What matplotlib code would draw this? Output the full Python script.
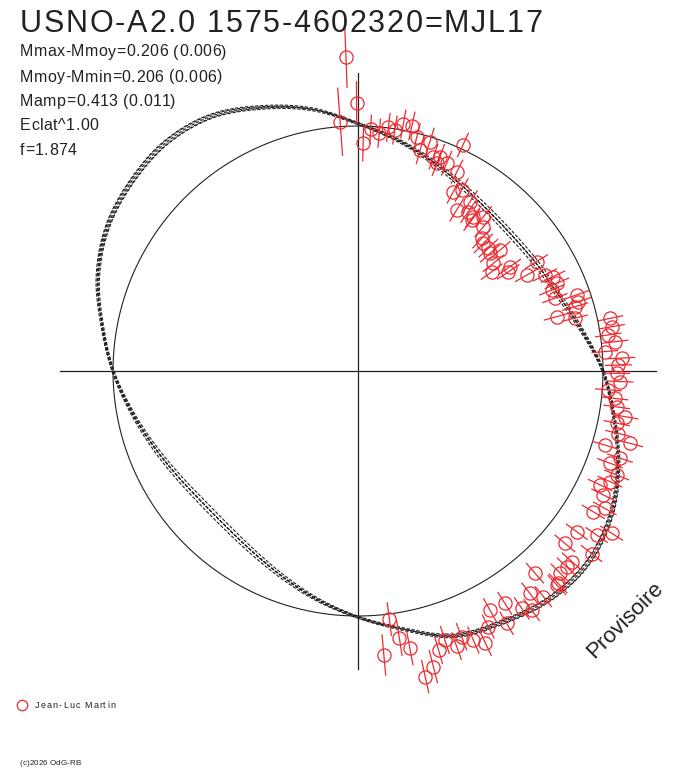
import numpy as np
import matplotlib
matplotlib.use("Agg")
import matplotlib.pyplot as plt
from matplotlib.collections import LineCollection
from matplotlib.textpath import TextToPath
from matplotlib.font_manager import FontProperties

plt.rcParams['font.family'] = ['Liberation Sans', 'DejaVu Sans']

title = "USNO-A2.0 1575-4602320=MJL17"
info_lines = ["Mmax-Mmoy=0.206 (0.006)", "Mmoy-Mmin=0.206 (0.006)",
              "Mamp=0.413 (0.011)", "Eclat^1.00", "f=1.874"]
observer = "Jean-Luc Martin"
credit = "(c)2026 OdG-RB"
stamp = "Provisoire"

# fitted curve: phase angle (deg) and normalized radius
curve_deg = [0, 10, 20, 30, 40, 50, 60, 70, 80, 90, 100, 110, 120, 130, 140, 150, 160, 170,
             180, 190, 200, 210, 220, 230, 240, 250, 260, 270, 280, 290, 300, 310, 320, 330, 340, 350]
curve_r = [1.000, 0.930, 0.878, 0.852, 0.838, 0.842, 0.865, 0.905, 0.955, 1.010, 1.085, 1.145,
           1.200, 1.218, 1.205, 1.180, 1.130, 1.060, 1.000, 0.940, 0.890, 0.853, 0.832, 0.833,
           0.855, 0.895, 0.948, 1.005, 1.070, 1.150, 1.183, 1.215, 1.222, 1.190, 1.130, 1.060]
curve_scale = [-0.05, -0.025, 0.0, 0.025, 0.05]
curve_shift = [0.004, -0.004, 0.0, 0.004, -0.004]

# observations: phase angle (deg), normalized radius, error
obs_deg = [92.2, 90.3, 94.1, 88.7, 87.0, 84.9, 82.9, 81.3, 79.6, 77.6, 75.9, 72.6, 65.1, 74.3,
           70.6, 69.1, 66.9, 69.2, 63.6, 62.0, 60.2, 56.5, 58.5, 55.3, 53.2, 50.9, 53.0, 49.0,
           47.0, 45.5, 43.3, 40.4, 41.7, 38.5, 34.5, 36.6, 33.4, 29.6, 31.5, 27.2, 25.8, 23.8,
           22.7, 20.3, 19.2, 17.5, 16.5, 15.3, 13.7, 11.8, 9.9, 8.2, 6.5, 4.5, 2.8, 1.3,
           359.5, 357.7, 355.7, 353.9, 352.1, 350.3, 348.6, 346.5, 345.1, 343.3, 341.6, 339.9,
           338.1, 336.3, 334.8, 333.2, 329.1, 330.9, 327.4, 325.5, 323.7, 320.2, 322.0, 318.3,
           316.8, 315.0, 311.2, 313.3, 307.7, 309.4, 302.3, 304.6, 306.0, 298.9, 300.5, 297.0,
           312.9, 277.2, 278.8, 280.6, 275.2, 286.1, 287.9, 289.7, 291.3, 293.2, 295.1, 284.3,
           282.4]
obs_r = [1.281, 1.093, 1.020, 0.930, 0.988, 0.974, 1.002, 0.995, 1.025, 1.024, 0.984, 0.981,
         1.017, 0.937, 0.927, 0.937, 0.922, 0.907, 0.908, 0.829, 0.851, 0.829, 0.771, 0.791,
         0.786, 0.811, 0.771, 0.780, 0.740, 0.730, 0.731, 0.762, 0.722, 0.706, 0.752, 0.680,
         0.735, 0.792, 0.855, 0.858, 0.885, 0.887, 0.857, 0.857, 0.945, 0.943, 0.924, 0.841,
         0.911, 1.051, 1.051, 1.032, 1.056, 1.011, 1.078, 1.063, 1.056, 1.070, 1.025, 1.055,
         1.066, 1.106, 1.077, 1.093, 1.149, 1.052, 1.127, 1.095, 1.138, 1.123, 1.092, 1.122,
         1.119, 1.153, 1.229, 1.182, 1.108, 1.099, 1.210, 1.169, 1.168, 1.167, 1.097, 1.191,
         1.147, 1.192, 1.122, 1.177, 1.206, 1.114, 1.195, 1.171, 1.192, 1.021, 1.102, 1.152,
         1.164, 1.185, 1.154, 1.193, 1.164, 1.195, 1.224, 1.245, 1.277]
obs_err = [0.125, 0.090, 0.140, 0.075, 0.060, 0.060, 0.060, 0.060, 0.060, 0.060, 0.060, 0.060,
           0.055, 0.060, 0.055, 0.055, 0.055, 0.055, 0.055, 0.055, 0.055, 0.055, 0.055, 0.055,
           0.055, 0.055, 0.055, 0.055, 0.055, 0.055, 0.055, 0.055, 0.055, 0.055, 0.055, 0.055,
           0.055, 0.055, 0.055, 0.055, 0.055, 0.055, 0.055, 0.055, 0.055, 0.055, 0.055, 0.055,
           0.055, 0.055, 0.055, 0.055, 0.055, 0.055, 0.055, 0.055, 0.055, 0.055, 0.055, 0.055,
           0.055, 0.055, 0.055, 0.055, 0.055, 0.055, 0.055, 0.055, 0.055, 0.055, 0.055, 0.055,
           0.055, 0.055, 0.055, 0.055, 0.055, 0.055, 0.055, 0.055, 0.055, 0.055, 0.055, 0.055,
           0.055, 0.055, 0.055, 0.055, 0.055, 0.055, 0.055, 0.055, 0.055, 0.070, 0.075, 0.070,
           0.085, 0.060, 0.060, 0.060, 0.060, 0.060, 0.060, 0.070, 0.070]

RED = '#ee2a30'
INK = '#222222'
W, H, DPI = 688, 768, 100

fig = plt.figure(figsize=(W / DPI, H / DPI), dpi=DPI)
ax = fig.add_axes([0, 0, 1, 1])
ax.set_xlim(-358 / 245, (W - 358) / 245)
ax.set_ylim(-(H - 371) / 245, 371 / 245)
ax.set_aspect('equal')
ax.axis('off')

# reference circle and axes
t = np.linspace(0, 2 * np.pi, 400)
ax.plot(np.cos(t), np.sin(t), color=INK, lw=0.8)
L = 1.215
ax.plot([-L, L], [0, 0], color=INK, lw=0.9)
ax.plot([0, 0], [-L, L], color=INK, lw=0.9)


def smooth_periodic(values, n_sub=12):
    """Catmull-Rom rendering of a periodic sequence (for drawing only)."""
    v = np.asarray(values, float)
    n = len(v)
    out = []
    for i in range(n):
        p0, p1, p2, p3 = v[(i - 1) % n], v[i], v[(i + 1) % n], v[(i + 2) % n]
        for u in np.linspace(0, 1, n_sub, endpoint=False):
            out.append(0.5 * ((2 * p1) + (-p0 + p2) * u + (2 * p0 - 5 * p1 + 4 * p2 - p3) * u ** 2
                              + (-p0 + 3 * p1 - 3 * p2 + p3) * u ** 3))
    out.append(out[0])
    return np.array(out)


# fitted curves (several dashed copies)
step = 360 / len(curve_deg)
n_sub = 12
cd = np.radians(curve_deg[0] + np.arange(len(curve_deg) * n_sub + 1) * step / n_sub)
cr = smooth_periodic(curve_r, n_sub)
for s, o in zip(curve_scale, curve_shift):
    rr = 1 + (cr - 1) * (1 + s) + o
    ax.plot(rr * np.cos(cd), rr * np.sin(cd), color=INK, lw=0.8,
            linestyle=(0, (3, 1.5)))

# observations with radial error bars
th = np.radians(np.array(obs_deg))
r = np.array(obs_r)
e = np.array(obs_err)
segs = [[((ri - ei) * np.cos(ti), (ri - ei) * np.sin(ti)),
         ((ri + ei) * np.cos(ti), (ri + ei) * np.sin(ti))] for ti, ri, ei in zip(th, r, e)]
ax.add_collection(LineCollection(segs, colors=RED, linewidths=0.9))
ax.plot(r * np.cos(th), r * np.sin(th), 'o', ms=9.5, mfc='none', mec=RED, mew=0.9)

ttp = TextToPath()


def spaced_text(x_px, y_px, s, size, extra_px):
    prop = FontProperties(family='Liberation Sans', size=size)
    for i, ch in enumerate(s):
        if ch == ' ':
            continue
        w_pt = ttp.get_text_width_height_descent(s[:i], prop, ismath=False)[0] if i else 0.0
        x = x_px + w_pt * DPI / 72 + i * extra_px
        fig.text(x / W, 1 - y_px / H, ch, fontproperties=prop, color=INK,
                 va='baseline', ha='left')


# texts
spaced_text(20, 32, title, 22, 1.7)
for s, yb in zip(info_lines, [56.5, 81.5, 106, 130.5, 155]):
    spaced_text(20, yb, s, 11.5, 0.45)
ax.plot([-336 / 245], [(371 - 705) / 245], 'o', ms=7.5, mfc='none', mec=RED, mew=0.9)
spaced_text(35, 708.5, observer, 6.5, 1.1)
spaced_text(20, 765, credit, 5.8, 0.0)
fig.text(625 / W, 1 - 620 / H, stamp, fontsize=16, color=INK, rotation=45,
         va='center', ha='center', rotation_mode='anchor')

fig.savefig('out.png', dpi=DPI, facecolor='white')
